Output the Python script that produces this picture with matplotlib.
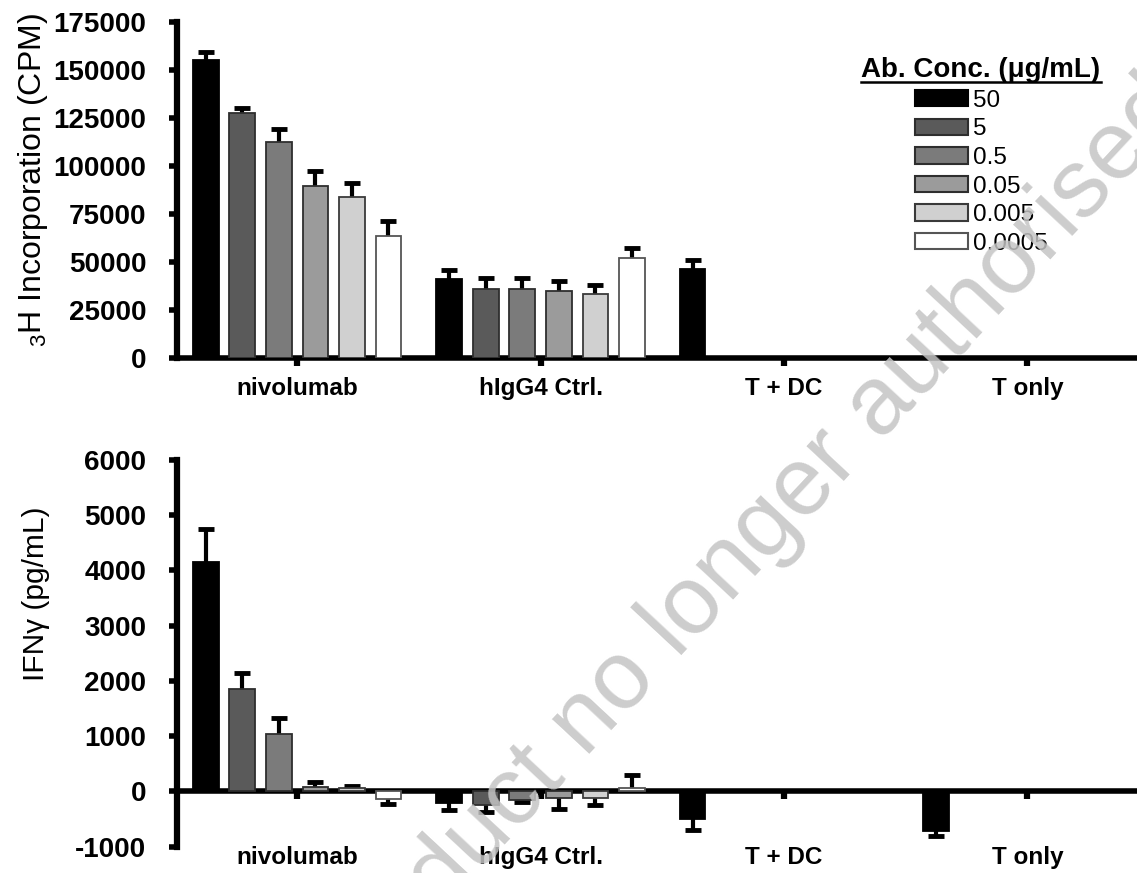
import matplotlib
matplotlib.use('Agg')
import matplotlib.pyplot as plt
import matplotlib.transforms as mtransforms
from matplotlib.patches import Patch
from matplotlib.lines import Line2D
import numpy as np

plt.rcParams['font.family'] = ['Liberation Sans', 'DejaVu Sans']
plt.rcParams['mathtext.fontset'] = 'custom'
plt.rcParams['mathtext.rm'] = 'Liberation Sans'

groups = ['nivolumab', 'hIgG4 Ctrl.', 'T + DC', 'T only']
conc_labels = ['50', '5', '0.5', '0.05', '0.005', '0.0005']
bar_colors = ['#000000', '#5a5a5a', '#7b7b7b', '#9b9b9b', '#d0d0d0', '#ffffff']
edge_colors = ['#000000', '#2e2e2e', '#2e2e2e', '#2e2e2e', '#3a3a3a', '#555555']

# 3H incorporation (CPM), one list per group, one value per concentration
cpm_nivo = [155000, 127500, 112500, 89500, 84000, 63500]
cpm_nivo_err = [4500, 2500, 7000, 8000, 7000, 8000]
cpm_igg = [41000, 36000, 36000, 35000, 33500, 52000]
cpm_igg_err = [5000, 5500, 5500, 5000, 4700, 5500]
cpm_tdc = [46500]
cpm_tdc_err = [4800]
cpm_tonly = [0]
cpm_tonly_err = [0]

# IFN-gamma (pg/mL)
ifn_nivo = [4150, 1850, 1040, 90, 70, -130]
ifn_nivo_err = [600, 300, 290, 90, 30, 100]
ifn_igg = [-210, -240, -150, -120, -120, 60]
ifn_igg_err = [120, 140, 40, 200, 120, 240]
ifn_tdc = [-490]
ifn_tdc_err = [200]
ifn_tonly = [-720]
ifn_tonly_err = [90]

cpm_data = [(cpm_nivo, cpm_nivo_err), (cpm_igg, cpm_igg_err),
            (cpm_tdc, cpm_tdc_err), (cpm_tonly, cpm_tonly_err)]
ifn_data = [(ifn_nivo, ifn_nivo_err), (ifn_igg, ifn_igg_err),
            (ifn_tdc, ifn_tdc_err), (ifn_tonly, ifn_tonly_err)]

step = 0.15
width = 0.105


def draw_bars(ax, data):
    for g, (vals, errs) in enumerate(data):
        for i, (v, e) in enumerate(zip(vals, errs)):
            x = g + (i - 2.5) * step
            ax.bar(x, v, width, color=bar_colors[i], edgecolor=edge_colors[i],
                   linewidth=1.3, zorder=3)
            if e > 0:
                end = v + e if v >= 0 else v - e
                ax.vlines(x, v, end, colors='k', linewidth=3, zorder=2)
                ax.plot([x], [end], ls='none', marker='_', ms=11, mew=3.5,
                        color='k', zorder=2)


def style_axis(ax, yticks):
    for s in ['top', 'right']:
        ax.spines[s].set_visible(False)
    ax.spines['left'].set_linewidth(4.5)
    ax.spines['bottom'].set_linewidth(4.0)
    ax.set_yticks(yticks)
    ax.set_yticklabels([str(t) for t in yticks], fontsize=20, fontweight='bold')
    ax.tick_params(axis='y', length=6, width=4, pad=16)
    ax.set_xticks(range(len(groups)))
    ax.set_xticklabels([])
    ax.tick_params(axis='x', length=6, width=4.5, direction='out')
    ax.set_xlim(-0.493, 3.45)
    ax.patch.set_alpha(0)


fig = plt.figure(figsize=(11.37, 8.73), dpi=100)
ax1 = fig.add_axes([0.1557, 0.5899, 0.8443, 0.3849])
ax2 = fig.add_axes([0.1557, 0.0301, 0.8443, 0.4430])

# top panel
draw_bars(ax1, cpm_data)
ax1.set_ylim(0, 175000)
style_axis(ax1, list(range(0, 175001, 25000)))
ax1.set_ylabel(r'$\mathregular{_3}$H Incorporation (CPM)', fontsize=23)
ax1.yaxis.set_label_coords(-0.132, 0.53)
trans1 = mtransforms.blended_transform_factory(ax1.transData, ax1.transAxes)
for g, name in enumerate(groups):
    ax1.text(g, -0.092, name, transform=trans1, ha='center', va='center',
             fontsize=17.5, fontweight='bold')

handles = [Patch(facecolor=c, edgecolor=ec, linewidth=1.5)
           for c, ec in zip(bar_colors, edge_colors)]
leg = ax1.legend(handles, conc_labels, title='Ab. Conc. (\u03bcg/mL)',
                 loc='upper left', bbox_to_anchor=(0.713, 0.895), frameon=False,
                 fontsize=17.5, title_fontproperties={'size': 20, 'weight': 'bold'},
                 handlelength=2.2, handleheight=0.65, handletextpad=0.2,
                 labelspacing=0.27, borderpad=0, borderaxespad=0)

# bottom panel
draw_bars(ax2, ifn_data)
ax2.set_ylim(-1000, 6000)
style_axis(ax2, list(range(-1000, 6001, 1000)))
ax2.spines['bottom'].set_position(('data', 0))
ax2.set_ylabel('IFN\u03b3 (pg/mL)', fontsize=21.5)
ax2.yaxis.set_label_coords(-0.132, 0.654)
trans2 = mtransforms.blended_transform_factory(ax2.transData, ax2.transAxes)
for g, name in enumerate(groups):
    ax2.text(g, -0.028, name, transform=trans2, ha='center', va='center',
             fontsize=17.5, fontweight='bold')

# underline legend title
fig.canvas.draw()
bb = leg.get_title().get_window_extent()
inv = fig.transFigure.inverted()
(x0, y0), (x1_, _) = inv.transform([(bb.x0, bb.y0 + 1), (bb.x1, bb.y0)])
fig.add_artist(Line2D([x0, x1_], [y0, y0], color='k', linewidth=1.8))

# watermark
fig.text(0.656, 0.37, 'Product no longer authorised', fontsize=70,
         color='#c4c4c4', alpha=0.85, rotation=47, ha='center', va='center',
         rotation_mode='anchor', zorder=10)

fig.savefig('out.png', dpi=100)
